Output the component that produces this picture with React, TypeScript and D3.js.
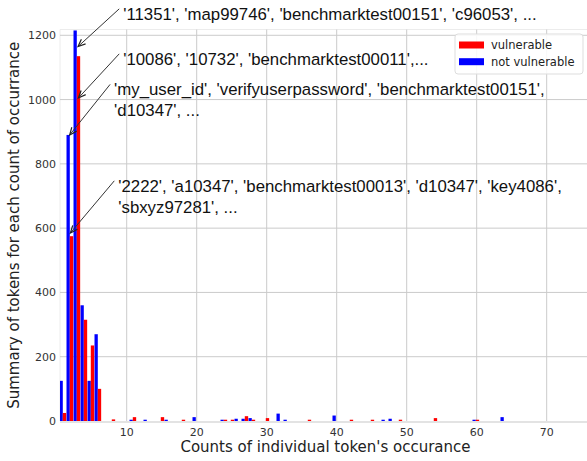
import React, { useEffect, useRef } from "react";
import * as d3 from "d3";

// count of occurrences per token (x) and how many tokens have that count
const occurrenceCounts = [1, 2, 3, 4, 5, 6, 8, 11, 13, 15, 16, 18, 20, 24, 25, 26, 27, 28, 30, 32, 33, 36, 40, 42, 45, 47, 48, 49, 54, 60, 64];
const vulnerableTotals = [25, 575, 1135, 315, 235, 100, 5, 12, 0, 12, 0, 4, 0, 4, 4, 0, 15, 4, 9, 0, 0, 4, 0, 4, 4, 0, 0, 4, 9, 4, 0];
const notVulnerableTotals = [125, 890, 1215, 360, 125, 270, 0, 4, 4, 0, 4, 0, 12, 4, 0, 7, 7, 9, 0, 23, 4, 0, 17, 0, 0, 4, 7, 0, 0, 4, 12];

const xTicks = [10, 20, 30, 40, 50, 60, 70];
const yTicks = [0, 200, 400, 600, 800, 1000, 1200];

const seriesNames = ["vulnerable", "not vulnerable"];
const seriesColors = ["#ff0000", "#0000ff"];

// annotation text lines, text anchor (data units) and the point the arrow hits
const noteLines = [
  ["'11351', 'map99746', 'benchmarktest00151', 'c96053', ..."],
  ["'10086', '10732', 'benchmarktest00011',..."],
  ["'my_user_id', 'verifyuserpassword', 'benchmarktest00151',", "'d10347', ..."],
  ["'2222', 'a10347', 'benchmarktest00013', 'd10347', 'key4086',", "'sbxyz97281', ..."],
];
const noteTextAt = [[9.5, 1248], [9.5, 1108], [8.2, 1013], [8.8, 713]];
const noteTipAt = [[3.05, 1165], [3.1, 1005], [1.85, 890], [1.95, 585]];

export default function App() {
  const svgRef = useRef<SVGSVGElement | null>(null);

  useEffect(() => {
    const width = 587;
    const height = 461;
    const left = 60, right = 587, top = 29.5, bottom = 421;

    const svg = d3.select(svgRef.current);
    svg.selectAll("*").remove();
    svg.attr("width", width).attr("height", height);

    const x = d3.scaleLinear().domain([0.47, 75.76]).range([left, right]);
    const y = d3.scaleLinear().domain([0, 1218]).range([bottom, top]);

    svg.append("rect").attr("width", width).attr("height", height).attr("fill", "#fff");

    svg.append("defs").append("clipPath").attr("id", "plot-clip")
      .append("rect").attr("x", left).attr("y", top).attr("width", right - left).attr("height", bottom - top);

    // frame
    svg.append("line").attr("x1", left).attr("x2", right).attr("y1", top).attr("y2", top)
      .attr("stroke", "#ececec").attr("stroke-width", 1);
    svg.append("line").attr("x1", left).attr("x2", left).attr("y1", top).attr("y2", bottom)
      .attr("stroke", "#ececec").attr("stroke-width", 1);

    // grid
    svg.append("g").selectAll("line").data(xTicks).join("line")
      .attr("x1", (d) => x(d)).attr("x2", (d) => x(d)).attr("y1", top).attr("y2", bottom)
      .attr("stroke", "#cbcbcb").attr("stroke-width", 1);
    svg.append("g").selectAll("line").data(yTicks.filter((d) => d > 0)).join("line")
      .attr("x1", left).attr("x2", right).attr("y1", (d) => y(d)).attr("y2", (d) => y(d))
      .attr("stroke", "#cbcbcb").attr("stroke-width", 1);

    // bars
    const bars = svg.append("g").attr("clip-path", "url(#plot-clip)");
    const rows = occurrenceCounts.map((c, i) => ({ c, red: vulnerableTotals[i], blue: notVulnerableTotals[i] }));
    bars.selectAll("rect.blue").data(rows.filter((d) => d.blue > 0)).join("rect")
      .attr("class", "blue")
      .attr("x", (d) => x(d.c - 0.6)).attr("width", (d) => x(d.c - 0.13) - x(d.c - 0.6))
      .attr("y", (d) => y(d.blue)).attr("height", (d) => y(0) - y(d.blue))
      .attr("fill", seriesColors[1]);
    bars.selectAll("rect.red").data(rows.filter((d) => d.red > 0)).join("rect")
      .attr("class", "red")
      .attr("x", (d) => x(d.c - 0.13)).attr("width", (d) => x(d.c + 0.35) - x(d.c - 0.13))
      .attr("y", (d) => y(d.red)).attr("height", (d) => y(0) - y(d.red))
      .attr("fill", seriesColors[0]);

    // bottom axis band
    svg.append("line").attr("x1", left).attr("x2", right).attr("y1", bottom + 1).attr("y2", bottom + 1)
      .attr("stroke", "#e3e3e3").attr("stroke-width", 2);

    // tick labels
    const tickFont = "DejaVu Sans, sans-serif";
    svg.append("g").selectAll("text").data(xTicks).join("text")
      .attr("x", (d) => x(d)).attr("y", bottom + 15)
      .attr("text-anchor", "middle").attr("font-family", tickFont).attr("font-size", 11)
      .attr("fill", "#333").text((d) => d);
    svg.append("g").selectAll("text").data(yTicks).join("text")
      .attr("x", left - 4).attr("y", (d) => y(d) + 4)
      .attr("text-anchor", "end").attr("font-family", tickFont).attr("font-size", 11)
      .attr("fill", "#333").text((d) => d);

    // axis labels
    svg.append("text")
      .attr("x", (left + right) / 2 + 2).attr("y", 452)
      .attr("text-anchor", "middle").attr("font-family", tickFont).attr("font-size", 15)
      .attr("fill", "#222").text("Counts of individual token's occurance");
    svg.append("text")
      .attr("transform", `translate(19,${(top + bottom) / 2}) rotate(-90)`)
      .attr("text-anchor", "middle").attr("font-family", tickFont).attr("font-size", 15)
      .attr("fill", "#222").text("Summary of tokens for each count of occurrance");

    // annotations
    const notes = svg.append("g");
    noteLines.forEach((lines, i) => {
      const [tx, ty] = noteTextAt[i];
      const [px, py] = noteTipAt[i];
      const t = notes.append("text")
        .attr("x", x(tx)).attr("y", y(ty))
        .attr("font-family", "Liberation Sans, Arial, sans-serif").attr("font-size", 16.8)
        .attr("fill", "#111");
      lines.forEach((line, j) => {
        t.append("tspan").attr("x", x(tx)).attr("dy", j === 0 ? 0 : 21).text(line);
      });
      const sx = x(tx) - 4, sy = y(ty) - 11;
      const ex = x(px), ey = y(py);
      notes.append("line").attr("x1", sx).attr("y1", sy).attr("x2", ex).attr("y2", ey)
        .attr("stroke", "#333").attr("stroke-width", 1);
      const ang = Math.atan2(ey - sy, ex - sx);
      const head = d3.line()([
        [ex - 8 * Math.cos(ang - 0.4), ey - 8 * Math.sin(ang - 0.4)],
        [ex, ey],
        [ex - 8 * Math.cos(ang + 0.4), ey - 8 * Math.sin(ang + 0.4)],
      ]);
      notes.append("path").attr("d", head).attr("fill", "none").attr("stroke", "#222").attr("stroke-width", 1.2);
    });

    // legend
    const lg = svg.append("g").attr("transform", "translate(455,34)");
    lg.append("rect").attr("width", 128).attr("height", 40).attr("rx", 3)
      .attr("fill", "#fff").attr("fill-opacity", 0.85).attr("stroke", "#dddddd");
    seriesNames.forEach((name, i) => {
      lg.append("rect").attr("x", 4).attr("y", 7.5 + i * 16.7).attr("width", 25).attr("height", 7)
        .attr("fill", seriesColors[i]);
      lg.append("text").attr("x", 36).attr("y", 15 + i * 16.7)
        .attr("font-family", tickFont).attr("font-size", 11.5).attr("fill", "#222").text(name);
    });
  }, []);

  return (
    <svg ref={svgRef} style={{ position: "absolute", left: 0, top: 0, display: "block" }} />
  );
}
